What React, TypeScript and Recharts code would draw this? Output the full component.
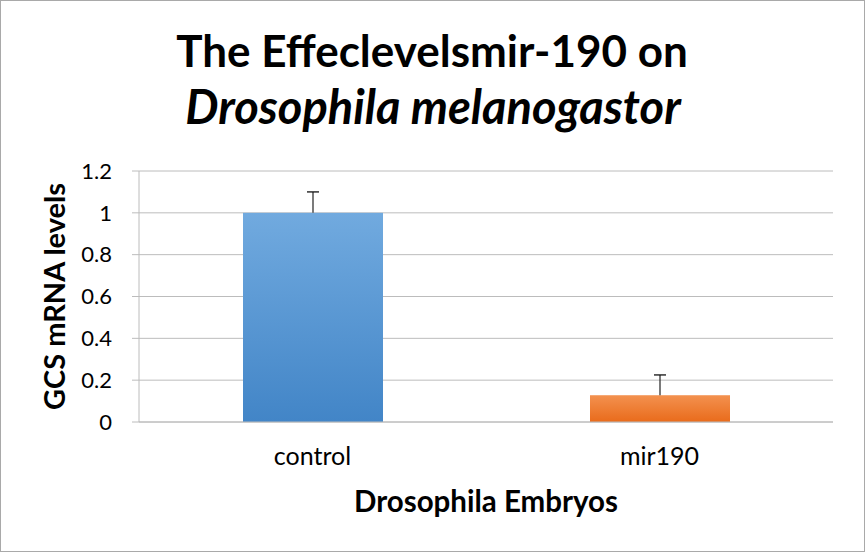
import React from 'react';
import { BarChart, Bar, XAxis, YAxis, CartesianGrid, Label } from 'recharts';

const categories = ['control', 'mir190'];
const values = [1.0, 0.128];
const errors = [0.1, 0.097];
const yTicks = [0, 0.2, 0.4, 0.6, 0.8, 1, 1.2];
const titleLines = ['The Effeclevelsmir-190 on', 'Drosophila melanogastor'];
const yTitle = 'GCS mRNA levels';
const xTitle = 'Drosophila Embryos';
const gradients = [
  ['#71aadf', '#4285c7'],
  ['#f3914f', '#e96b1b'],
];

const data = categories.map((c, i) => ({ name: c, value: values[i], err: errors[i] }));

const FONT = 'Lato, "Open Sans", sans-serif';
const GRID = '#bcbcbc';

const BarShape = (props: any) => {
  const { x, y, width, height, payload, index } = props;
  const errPx = payload.value ? (height * payload.err) / payload.value : 0;
  const cx = x + width / 2;
  return (
    <g>
      <rect x={x} y={y} width={width} height={height} fill={`url(#barGrad${index})`} />
      <line x1={cx} x2={cx} y1={y} y2={y - errPx} stroke="#333" strokeWidth={1.3} />
      <line x1={cx - 6} x2={cx + 6} y1={y - errPx} y2={y - errPx} stroke="#111" strokeWidth={1.3} />
    </g>
  );
};

const YTitle = (props: any) => {
  const cy = 171 + (422 - 171) / 2;
  return (
    <text
      x={65}
      y={cy}
      transform={`rotate(-90, 65, ${cy})`}
      textAnchor="middle"
      fontFamily={FONT}
      fontWeight="bold"
      fontSize={29}
      fill="#000"
    >
      {yTitle}
    </text>
  );
};

export default function App() {
  return (
    <div style={{ position: 'absolute', left: 0, top: 0, width: 865, height: 552, background: '#fff' }}>
      <BarChart
        width={865}
        height={552}
        data={data}
        margin={{ top: 171, right: 32, bottom: 40, left: 0 }}
        barSize={140}
      >
        <defs>
          {gradients.map((g, i) => (
            <linearGradient key={i} id={`barGrad${i}`} x1="0" y1="0" x2="0" y2="1">
              <stop offset="0%" stopColor={g[0]} />
              <stop offset="100%" stopColor={g[1]} />
            </linearGradient>
          ))}
        </defs>
        <CartesianGrid vertical={false} stroke={GRID} strokeWidth={1} />
        <XAxis
          dataKey="name"
          height={90}
          tickLine={false}
          tickSize={0}
          tickMargin={25}
          axisLine={{ stroke: GRID }}
          tick={{ fontFamily: FONT, fontSize: 25, fill: '#000' }}
        >
          <Label
            value={xTitle}
            position="insideBottom"
            offset={0}
            style={{ fontFamily: FONT, fontWeight: 'bold', fontSize: 29.5, fill: '#000' }}
          />
        </XAxis>
        <YAxis
          width={139}
          domain={[0, 1.2]}
          ticks={yTicks}
          interval={0}
          tickSize={7}
          tickMargin={20}
          tickLine={{ stroke: GRID }}
          axisLine={{ stroke: GRID }}
          tick={{ fontFamily: FONT, fontSize: 22, fill: '#000' }}
        >
          <Label content={<YTitle />} />
        </YAxis>
        <Bar dataKey="value" isAnimationActive={false} shape={<BarShape />} />
      </BarChart>
      <svg
        width={865}
        height={552}
        style={{ position: 'absolute', left: 0, top: 0, pointerEvents: 'none' }}
      >
        <rect x={0.5} y={0.5} width={864} height={551} fill="none" stroke="#a9a9a9" strokeWidth={1} />
        <text x={432} y={67} textAnchor="middle" fontFamily={FONT} fontWeight="bold" fontSize={44} fill="#000">
          {titleLines[0]}
        </text>
        <text
          x={433}
          y={124}
          textAnchor="middle"
          fontFamily={FONT}
          fontWeight="bold"
          fontStyle="italic"
          fontSize={47}
          fill="#000"
        >
          {titleLines[1]}
        </text>
      </svg>
    </div>
  );
}
